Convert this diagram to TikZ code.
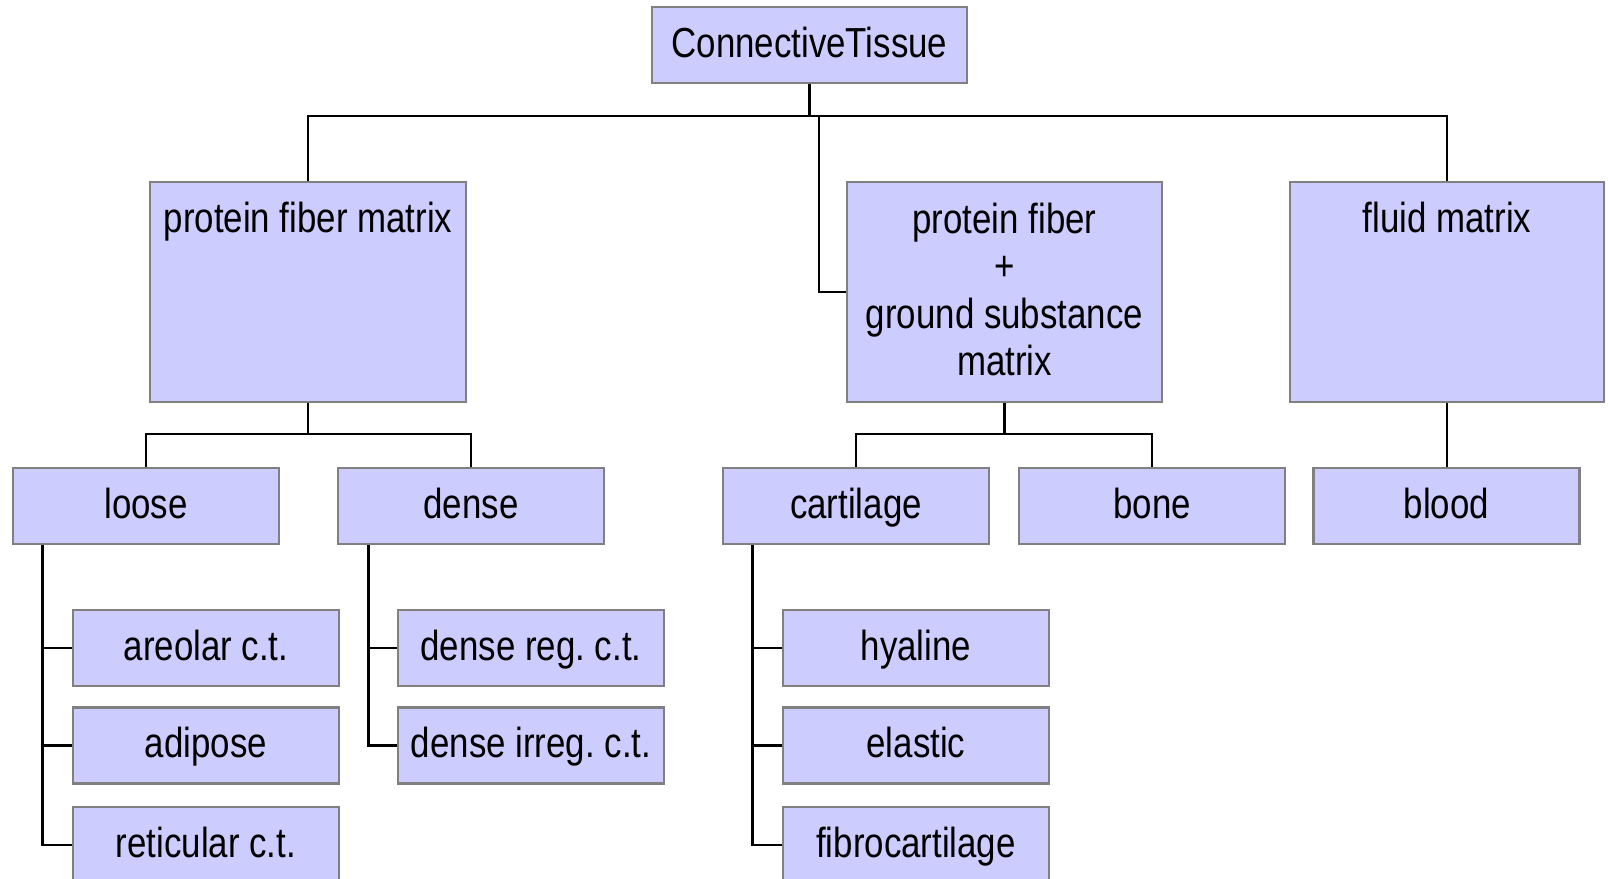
\documentclass[tikz,border=0pt]{standalone}
\usepackage{fontspec}
\setmainfont[FakeStretch=0.83]{Liberation Sans}
\usetikzlibrary{calc}
\definecolor{boxfill}{RGB}{204,204,255}
\definecolor{boxline}{RGB}{128,128,128}
\begin{document}
\frenchspacing
\begin{tikzpicture}[x=1pt,y=-1pt,
 box/.style={draw=boxline, fill=boxfill, line width=2.5pt, inner sep=0pt,
   minimum width=266pt, minimum height=76pt, text height=30pt, text depth=6pt,
   font=\fontsize{42}{47.5}\selectfont},
 big/.style={box, minimum height=220pt},
 lbl/.style={inner sep=0pt, align=center, anchor=north, font=\fontsize{42}{47.5}\selectfont},
 link/.style={line width=2.6pt, draw=black}]
\fill[white] (0,0) rectangle (1608,878);
\useasboundingbox (0,0) rectangle (1608,878);

% level 1 and 2
\node[box, minimum width=315pt] (root) at (809.5,45) {ConnectiveTissue};
\node[big, minimum width=316pt] (pfm) at (308,292) {};
\node[lbl] (pfmt) at (308,199) {\strut protein fiber matrix};
\node[big, minimum width=315pt] (mid) at (1004.5,292) {};
\node[lbl] (midt) at (1004.5,200) {\strut protein fiber\\+\\ground substance\\matrix};
\node[big, minimum width=314pt] (fluid) at (1447,292) {};
\node[lbl] (fluidt) at (1447,199) {\strut fluid matrix};

% level 3
\node[box] (loose) at (146,506) {loose};
\node[box] (dense) at (471,506) {dense};
\node[box] (cart) at (856,506) {cartilage};
\node[box] (bone) at (1152,506) {bone};
\node[box] (blood) at (1446.5,506) {blood};

% level 4
\node[box] (areolar) at (206,648) {areolar c.t.};
\node[box] (adipose) at (206,745.5) {adipose};
\node[box] (reticular) at (206,845) {reticular c.t.};
\node[box] (dreg) at (531,648) {dense reg. c.t.};
\node[box] (dirreg) at (531,745.5) {dense irreg. c.t.};
\node[box] (hyaline) at (916,648) {hyaline};
\node[box] (elastic) at (916,745.5) {elastic};
\node[box] (fibro) at (916,845) {fibrocartilage};

% connectors
\coordinate (j0) at (809.5,116);
\coordinate (j1) at (819,116);
\coordinate (j2) at (308,434);
\coordinate (j3) at (1004.5,434);
\draw[link] (root.south) -- (j0);
\draw[link] (pfm.north) |- (j0) -| (fluid.north);
\draw[link] (mid.west) -| (j1);
\draw[link] (pfm.south) -- (j2);
\draw[link] (loose.north) |- (j2) -| (dense.north);
\draw[link] (mid.south) -- (j3);
\draw[link] (cart.north) |- (j3) -| (bone.north);
\draw[link] (fluid.south) -- (fluid.south |- blood.north);

\coordinate (t1) at ($(loose.south west)+(31,0)$);
\coordinate (t2) at ($(dense.south west)+(32,0)$);
\coordinate (t3) at ($(cart.south west)+(31,0)$);
\draw[link] (t1) |- (areolar.west);
\draw[link] (t1) |- (adipose.west);
\draw[link] (t1) |- (reticular.west);
\draw[link] (t2) |- (dreg.west);
\draw[link] (t2) |- (dirreg.west);
\draw[link] (t3) |- (hyaline.west);
\draw[link] (t3) |- (elastic.west);
\draw[link] (t3) |- (fibro.west);
\end{tikzpicture}
\end{document}
